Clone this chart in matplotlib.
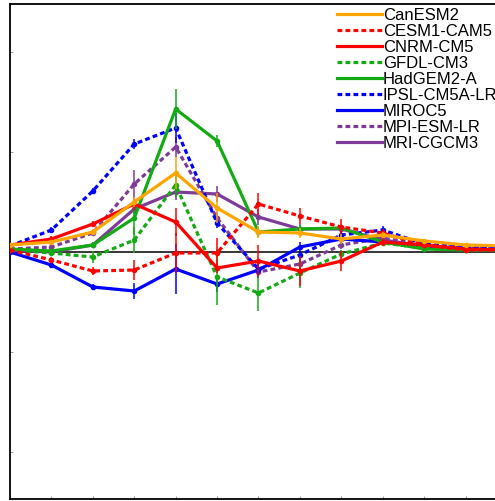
import numpy as np
import matplotlib
matplotlib.use('Agg')
from matplotlib import pyplot as plt
from matplotlib.lines import Line2D

plt.rcParams['font.family'] = ['Liberation Sans', 'DejaVu Sans']

steps = np.arange(13)

models = ['CanESM2', 'CESM1-CAM5', 'CNRM-CM5', 'GFDL-CM3', 'HadGEM2-A',
          'IPSL-CM5A-LR', 'MIROC5', 'MPI-ESM-LR', 'MRI-CGCM3']

canesm2 = [0.07, 0.10, 0.20, 0.50, 0.79, 0.44, 0.20, 0.19, 0.13, 0.17, 0.11, 0.07, 0.06]
cesm1 = [0.02, -0.08, -0.19, -0.18, -0.01, -0.01, 0.48, 0.36, 0.25, 0.19, 0.07, 0.02, 0.02]
cnrm = [0.07, 0.13, 0.28, 0.48, 0.30, -0.16, -0.09, -0.19, -0.09, 0.10, 0.07, 0.03, 0.02]
gfdl = [0.02, -0.01, -0.05, 0.12, 0.67, -0.25, -0.41, -0.21, -0.02, 0.09, 0.04, 0.02, 0.02]
hadgem = [0.03, 0.01, 0.07, 0.34, 1.43, 1.11, 0.20, 0.23, 0.24, 0.10, 0.03, 0.02, 0.02]
ipsl = [0.06, 0.22, 0.61, 1.08, 1.24, 0.29, -0.17, -0.03, 0.17, 0.22, 0.08, 0.05, 0.04]
miroc = [0.00, -0.13, -0.35, -0.39, -0.17, -0.32, -0.18, 0.05, 0.13, 0.10, 0.06, 0.03, 0.02]
mpi = [0.03, 0.05, 0.19, 0.68, 1.05, 0.34, -0.20, -0.12, 0.07, 0.14, 0.07, 0.04, 0.03]
mri = [0.02, 0.00, 0.07, 0.43, 0.60, 0.58, 0.35, 0.23, 0.23, 0.12, 0.06, 0.03, 0.02]

err_canesm2 = [0.02, 0.02, 0.03, 0.05, 0.16, 0.15, 0.06, 0.05, 0.05, 0.03, 0.02, 0.02, 0.02]
err_cesm1 = [0.02, 0.03, 0.04, 0.10, 0.20, 0.15, 0.11, 0.08, 0.08, 0.04, 0.02, 0.02, 0.02]
err_cnrm = [0.02, 0.03, 0.03, 0.06, 0.14, 0.05, 0.16, 0.15, 0.10, 0.04, 0.02, 0.02, 0.02]
err_gfdl = [0.02, 0.02, 0.06, 0.13, 0.12, 0.28, 0.18, 0.15, 0.04, 0.03, 0.02, 0.02, 0.02]
err_hadgem = [0.02, 0.02, 0.03, 0.17, 0.20, 0.06, 0.05, 0.04, 0.03, 0.03, 0.02, 0.02, 0.02]
err_ipsl = [0.02, 0.03, 0.03, 0.05, 0.15, 0.05, 0.05, 0.04, 0.04, 0.04, 0.02, 0.02, 0.02]
err_miroc = [0.02, 0.02, 0.03, 0.08, 0.25, 0.08, 0.08, 0.05, 0.04, 0.03, 0.02, 0.02, 0.02]
err_mpi = [0.02, 0.02, 0.03, 0.14, 0.10, 0.06, 0.06, 0.05, 0.04, 0.03, 0.02, 0.02, 0.02]
err_mri = [0.02, 0.02, 0.03, 0.05, 0.08, 0.08, 0.08, 0.05, 0.04, 0.03, 0.02, 0.02, 0.02]

values = [canesm2, cesm1, cnrm, gfdl, hadgem, ipsl, miroc, mpi, mri]
errors = [err_canesm2, err_cesm1, err_cnrm, err_gfdl, err_hadgem,
          err_ipsl, err_miroc, err_mpi, err_mri]
colors = ['#ffa500', '#ff0000', '#ff0000', '#14aa14', '#14aa14',
          '#0000ff', '#0000ff', '#7d3c98', '#7d3c98']
dashed = [False, True, False, True, False, True, False, True, False]

fig = plt.figure(figsize=(4.95, 5.01), dpi=100)
ax = fig.add_axes([10 / 495, 2 / 501, 497 / 495, 495 / 501])

ax.axhline(0, color='black', lw=1.1, zorder=1)

handles = []
for i in range(len(models)):
    ls = (0, (1.5, 1.0)) if dashed[i] else '-'
    ax.errorbar(steps, values[i], yerr=errors[i], color=colors[i],
                lw=2.3, ls=ls, marker='o', ms=3, elinewidth=1.1,
                capsize=0, zorder=20 - i)
    handles.append(Line2D([], [], color=colors[i], lw=2.3, ls=ls))

ax.set_xlim(0, 12)
ax.set_ylim(-2.47, 2.48)
ax.set_yticks([-2, -1, 0, 1, 2])
ax.set_xticks(steps)
ax.tick_params(direction='in', length=2, width=0.6, color='#888888',
               labelleft=False, labelbottom=False)
for s in ax.spines.values():
    s.set_linewidth(1.3)

leg = ax.legend(handles, models, loc='upper left',
                bbox_to_anchor=(337 / 495, 1 - 8 / 501),
                bbox_transform=fig.transFigure, frameon=False,
                fontsize=12, handlelength=2.7, handletextpad=0.05,
                labelspacing=0.06, borderpad=0, borderaxespad=0)

fig.savefig('out.png', dpi=100)
